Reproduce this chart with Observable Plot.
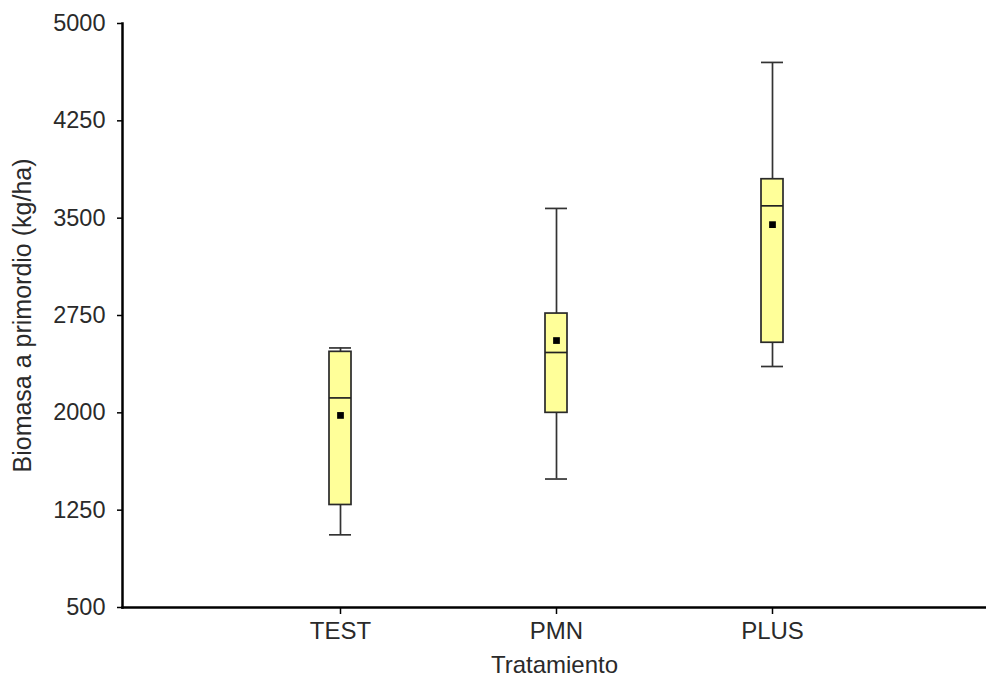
<!DOCTYPE html>
<html>
<head>
<meta charset="utf-8">
<script src="https://cdn.jsdelivr.net/npm/d3@7"></script>
<script src="https://cdn.jsdelivr.net/npm/@observablehq/plot@0.6"></script>
<style>
  html, body { margin: 0; padding: 0; background: #fff; }
  #chart { width: 986px; height: 677px; }
</style>
</head>
<body>
<div id="chart"></div>
<script>
const categories = ["TEST", "PMN", "PLUS"];
const minVals    = [1060, 1490, 2357];
const q1Vals     = [1290, 2000, 2540];
const medianVals = [2115, 2465, 3595];
const meanVals   = [1980, 2557, 3450];
const q3Vals     = [2470, 2765, 3800];
const maxVals    = [2500, 3575, 4700];
const yTicks     = [500, 1250, 2000, 2750, 3500, 4250, 5000];

const data = categories.map((c, i) => ({
  cat: c, min: minVals[i], q1: q1Vals[i], median: medianVals[i],
  mean: meanVals[i], q3: q3Vals[i], max: maxVals[i]
}));

const font = "'Liberation Sans', Arial, sans-serif";

const chart = Plot.plot({
  width: 986,
  height: 677,
  marginLeft: 122,
  marginRight: 0,
  marginTop: 23,
  marginBottom: 70,
  style: { fontFamily: font, color: "#2a2a2a", background: "#fff", overflow: "visible" },
  x: { type: "band", domain: categories, range: [122, 989], paddingInner: 0.8986, paddingOuter: 0.947 },
  y: { domain: [500, 5000] },
  marks: [
    Plot.ruleX(data, { x: "cat", y1: "min", y2: "max", stroke: "#333", strokeWidth: 1.7 }),
    Plot.barY(data, { x: "cat", y1: "q1", y2: "q3", fill: "#ffff99", stroke: "#2a2a2a", strokeWidth: 1.7 }),
    Plot.tickY(data, { x: "cat", y: "min", stroke: "#333", strokeWidth: 1.7 }),
    Plot.tickY(data, { x: "cat", y: "max", stroke: "#333", strokeWidth: 1.7 }),
    Plot.tickY(data, { x: "cat", y: "median", stroke: "#222", strokeWidth: 1.7 }),
    Plot.dot(data, { x: "cat", y: "mean", symbol: "square", r: 3.8, fill: "black", stroke: "none" }),
    Plot.frame({ anchor: "left", stroke: "black", strokeWidth: 2.5 }),
    Plot.frame({ anchor: "bottom", stroke: "black", strokeWidth: 2.5 }),
    Plot.axisY({ ticks: yTicks, tickSize: 5, tickPadding: 12, fontSize: 23.5, stroke: "black", strokeWidth: 1.5, label: null, tickFormat: d => String(d) }),
    Plot.axisY({ ticks: [], fontSize: 25, label: "Biomasa a primordio (kg/ha)", labelAnchor: "center", labelArrow: "none", labelOffset: 109 }),
    Plot.axisX({ tickSize: 7, tickPadding: 7, fontSize: 24, stroke: "black", strokeWidth: 1.5, label: "Tratamiento", labelAnchor: "center", labelArrow: "none", labelOffset: 65 })
  ]
});

document.getElementById("chart").appendChild(chart);
</script>
</body>
</html>
